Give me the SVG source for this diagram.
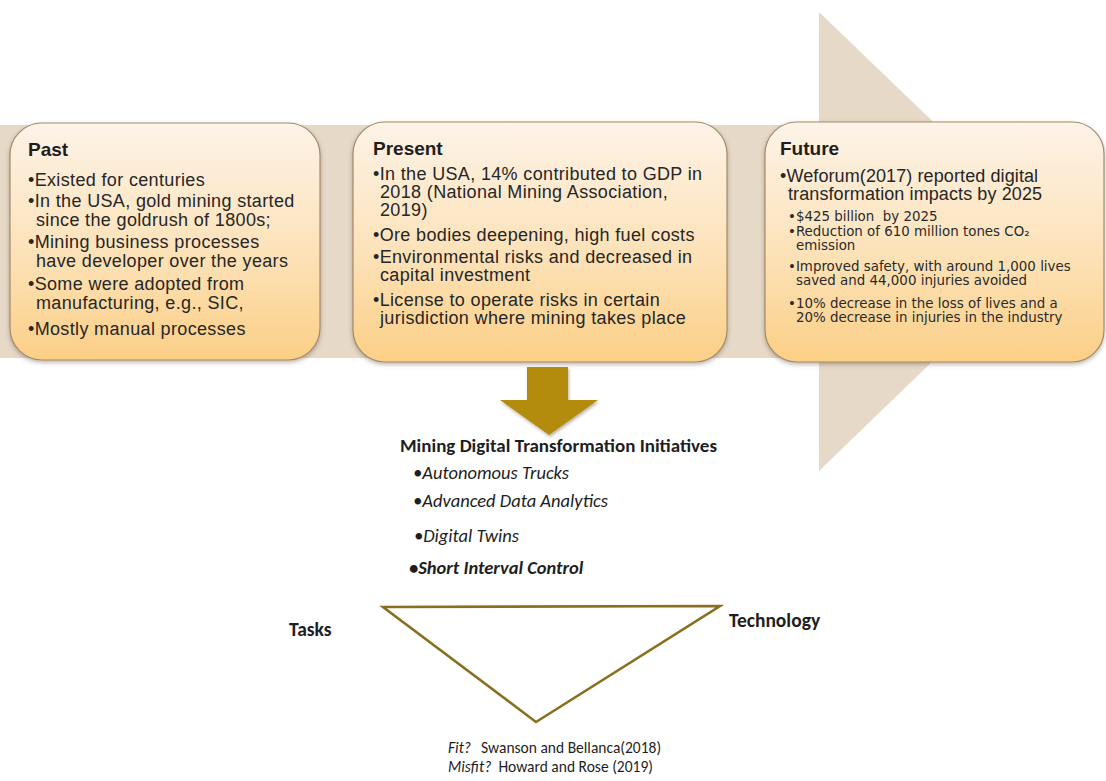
<svg xmlns="http://www.w3.org/2000/svg" width="1106" height="781" viewBox="0 0 1106 781">
  <defs>
    <linearGradient id="boxFill" x1="0" y1="0" x2="0" y2="1">
      <stop offset="0" stop-color="#fdf3e8"/>
      <stop offset="0.55" stop-color="#fde2b8"/>
      <stop offset="1" stop-color="#fbcf86"/>
    </linearGradient>
    <filter id="shadow" x="-5%" y="-5%" width="110%" height="115%">
      <feDropShadow dx="0" dy="2" stdDeviation="2" flood-color="#5a4630" flood-opacity="0.4"/>
    </filter>
    <filter id="softShadow" x="-20%" y="-20%" width="140%" height="140%">
      <feDropShadow dx="1" dy="2" stdDeviation="1.5" flood-color="#3a2a00" flood-opacity="0.35"/>
    </filter>
  </defs>
  <style>
    .box { fill: url(#boxFill); stroke: #a68b6b; stroke-width: 1.2; filter: url(#shadow); }
    .title { font-family: "Liberation Sans", Arial, sans-serif; font-weight: bold; font-size: 19px; fill: #1e1e1e; }
    .body { font-family: "Liberation Sans", Arial, sans-serif; font-size: 18px; letter-spacing: 0.35px; fill: #262626; }
    .fut { letter-spacing: 0.1px; }
    .sub { font-family: "DejaVu Sans", Verdana, sans-serif; font-size: 13.4px; fill: #2a2a2a; }
    .cal { font-family: Carlito, Lato, "Liberation Sans", sans-serif; fill: #1e1e1e; }
    .head { font-weight: bold; font-size: 19px; }
    .item { font-style: italic; font-size: 18.5px; }
    .itemB { font-style: italic; font-weight: bold; font-size: 18.5px; }
    .lbl { font-weight: bold; font-size: 19.5px; }
    .ref { font-size: 15.5px; }
  </style>

  <rect width="1106" height="781" fill="#ffffff"/>

  <!-- timeline arrow behind the three period boxes -->
  <g id="timeline-arrow">
    <path d="M0 125 H819 V12 L1057 241 L819 471 V358 H0 Z" fill="#e6d9c8"/>
  </g>

  <g id="past">
    <rect class="box" x="10" y="123" width="310" height="237" rx="32" ry="32"/>
    <text class="title" x="28" y="156">Past</text>
    <text class="body" x="28" y="186">•Existed for centuries</text>
    <text class="body" x="28" y="207">•In the USA, gold mining started</text>
    <text class="body" x="36" y="226">since the goldrush of 1800s;</text>
    <text class="body" x="28" y="248">•Mining business processes</text>
    <text class="body" x="36" y="267">have developer over the years</text>
    <text class="body" x="28" y="290">•Some were adopted from</text>
    <text class="body" x="36" y="309">manufacturing, e.g., SIC,</text>
    <text class="body" x="28" y="335">•Mostly manual processes</text>
  </g>

  <g id="present">
    <rect class="box" x="353" y="122" width="374" height="240" rx="32" ry="32"/>
    <text class="title" x="373" y="155">Present</text>
    <text class="body" x="373" y="180">•In the USA, 14% contributed to GDP in</text>
    <text class="body" x="380" y="198">2018 (National Mining Association,</text>
    <text class="body" x="380" y="216">2019)</text>
    <text class="body" x="373" y="241">•Ore bodies deepening, high fuel costs</text>
    <text class="body" x="373" y="263">•Environmental risks and decreased in</text>
    <text class="body" x="380" y="281">capital investment</text>
    <text class="body" x="373" y="306">•License to operate risks in certain</text>
    <text class="body" x="380" y="324">jurisdiction where mining takes place</text>
  </g>

  <g id="future">
    <rect class="box" x="765" y="122" width="339" height="240" rx="32" ry="32"/>
    <text class="title" x="780" y="155">Future</text>
    <text class="body fut" x="780" y="182">•Weforum(2017) reported digital</text>
    <text class="body fut" x="788" y="200">transformation impacts by 2025</text>
    <text class="sub" x="788" y="221" xml:space="preserve">•$425 billion  by 2025</text>
    <text class="sub" x="788" y="236">•Reduction of 610 million tones CO₂</text>
    <text class="sub" x="796" y="250">emission</text>
    <text class="sub" x="788" y="271">•Improved safety, with around 1,000 lives</text>
    <text class="sub" x="796" y="285">saved and 44,000 injuries avoided</text>
    <text class="sub" x="788" y="308">•10% decrease in the loss of lives and a</text>
    <text class="sub" x="796" y="322">20% decrease in injuries in the industry</text>
  </g>

  <g id="connectors">
    <path d="M527 367 H568 V400 H598 L549 435 L500 400 H527 Z" fill="#b38c0e" filter="url(#softShadow)"/>
  </g>

  <g id="initiatives" class="cal">
    <text class="head" x="400" y="452">Mining Digital Transformation Initiatives</text>
    <text class="item" x="413" y="479">•Autonomous Trucks</text>
    <text class="item" x="413" y="507">•Advanced Data Analytics</text>
    <text class="item" x="414" y="542">•Digital Twins</text>
    <text class="itemB" x="409" y="574">•Short Interval Control</text>
  </g>

  <g id="fit-triangle" class="cal">
    <path d="M383 607 L720 606 L536 722 Z" fill="none" stroke="#8a701e" stroke-width="2.6" stroke-linejoin="miter"/>
    <text class="lbl" x="289" y="636">Tasks</text>
    <text class="lbl" x="729" y="627">Technology</text>
    <text class="ref" x="448" y="753"><tspan font-style="italic">Fit?</tspan><tspan dx="10">Swanson and Bellanca(2018)</tspan></text>
    <text class="ref" x="448" y="772"><tspan font-style="italic">Misfit?</tspan><tspan dx="7">Howard and Rose (2019)</tspan></text>
  </g>
</svg>
